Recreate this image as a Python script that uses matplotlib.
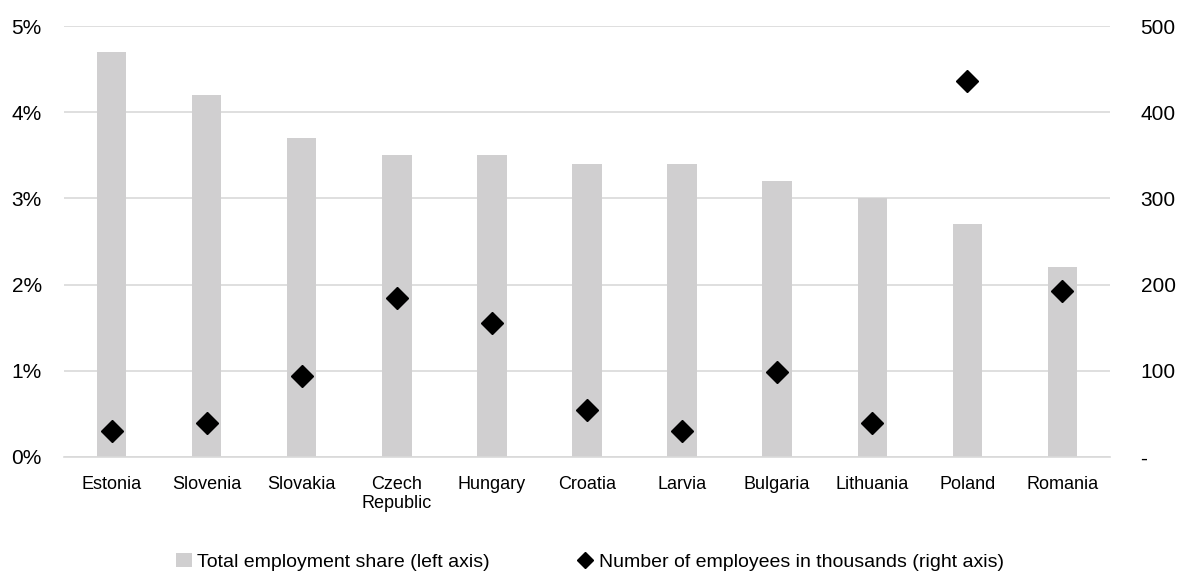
import numpy as np
from matplotlib import pyplot as plt
from matplotlib.lines import Line2D
from matplotlib.patches import Patch
from matplotlib.ticker import FuncFormatter

countries = ["Estonia", "Slovenia", "Slovakia", "Czech\nRepublic", "Hungary", "Croatia",
             "Larvia", "Bulgaria", "Lithuania", "Poland", "Romania"]
employment_share = [4.7, 4.2, 3.7, 3.5, 3.5, 3.4, 3.4, 3.2, 3.0, 2.7, 2.2]
employees_thousands = [30, 40, 94, 184, 156, 55, 30, 99, 40, 436, 192]

plt.rcParams["font.family"] = ["Liberation Sans Narrow", "Liberation Sans", "DejaVu Sans"]

fig = plt.figure(figsize=(11.84, 5.76), dpi=100)
ax = fig.add_axes([64 / 1184, 1 - 457 / 576, 1046 / 1184, 431 / 576])
ax2 = ax.twinx()

x = np.arange(len(countries))
bar_color = "#d0cfd0"
ax.bar(x, employment_share, width=0.31, color=bar_color, zorder=2)
ax2.plot(x, employees_thousands, linestyle="none", marker="D", markersize=11,
         color="black", zorder=3)

ax.set_xlim(-0.5, len(countries) - 0.5)
ax.set_ylim(0, 5)
ax2.set_ylim(0, 500)
ax.set_yticks(np.arange(0, 6, 1))
ax2.set_yticks(np.arange(0, 600, 100))
ax.yaxis.set_major_formatter(FuncFormatter(lambda v, _: f"{v:.0f}%"))
ax2.yaxis.set_major_formatter(FuncFormatter(lambda v, _: "-" if v == 0 else f"{v:.0f}"))

ax.set_xticks(x)
ax.set_xticklabels(countries, linespacing=1.1)
ax.grid(axis="y", color="#d9d9d9", linewidth=1.2, zorder=0)
ax.set_axisbelow(True)

for a in (ax, ax2):
    for side in ("top", "left", "right", "bottom"):
        a.spines[side].set_visible(False)
    a.tick_params(length=0, labelsize=15)
ax.spines["bottom"].set_visible(True)
ax.spines["bottom"].set_color("#d9d9d9")
ax.spines["bottom"].set_linewidth(1.2)
ax.tick_params(axis="x", labelsize=13, pad=14)
ax.tick_params(axis="y", pad=16)
ax2.tick_params(axis="y", pad=22)

handles = [
    Patch(facecolor=bar_color, edgecolor="none"),
    Line2D([], [], linestyle="none", marker="D", markersize=8, color="black"),
]
labels = ["Total employment share (left axis)", "Number of employees in thousands (right axis)"]
fig.legend(handles, labels, loc="center", bbox_to_anchor=(590 / 1184, 1 - 562 / 576),
           ncol=2, frameon=False, fontsize=14, handlelength=0.8, handletextpad=0.3,
           columnspacing=4.5)

plt.savefig("out.png", dpi=100)
